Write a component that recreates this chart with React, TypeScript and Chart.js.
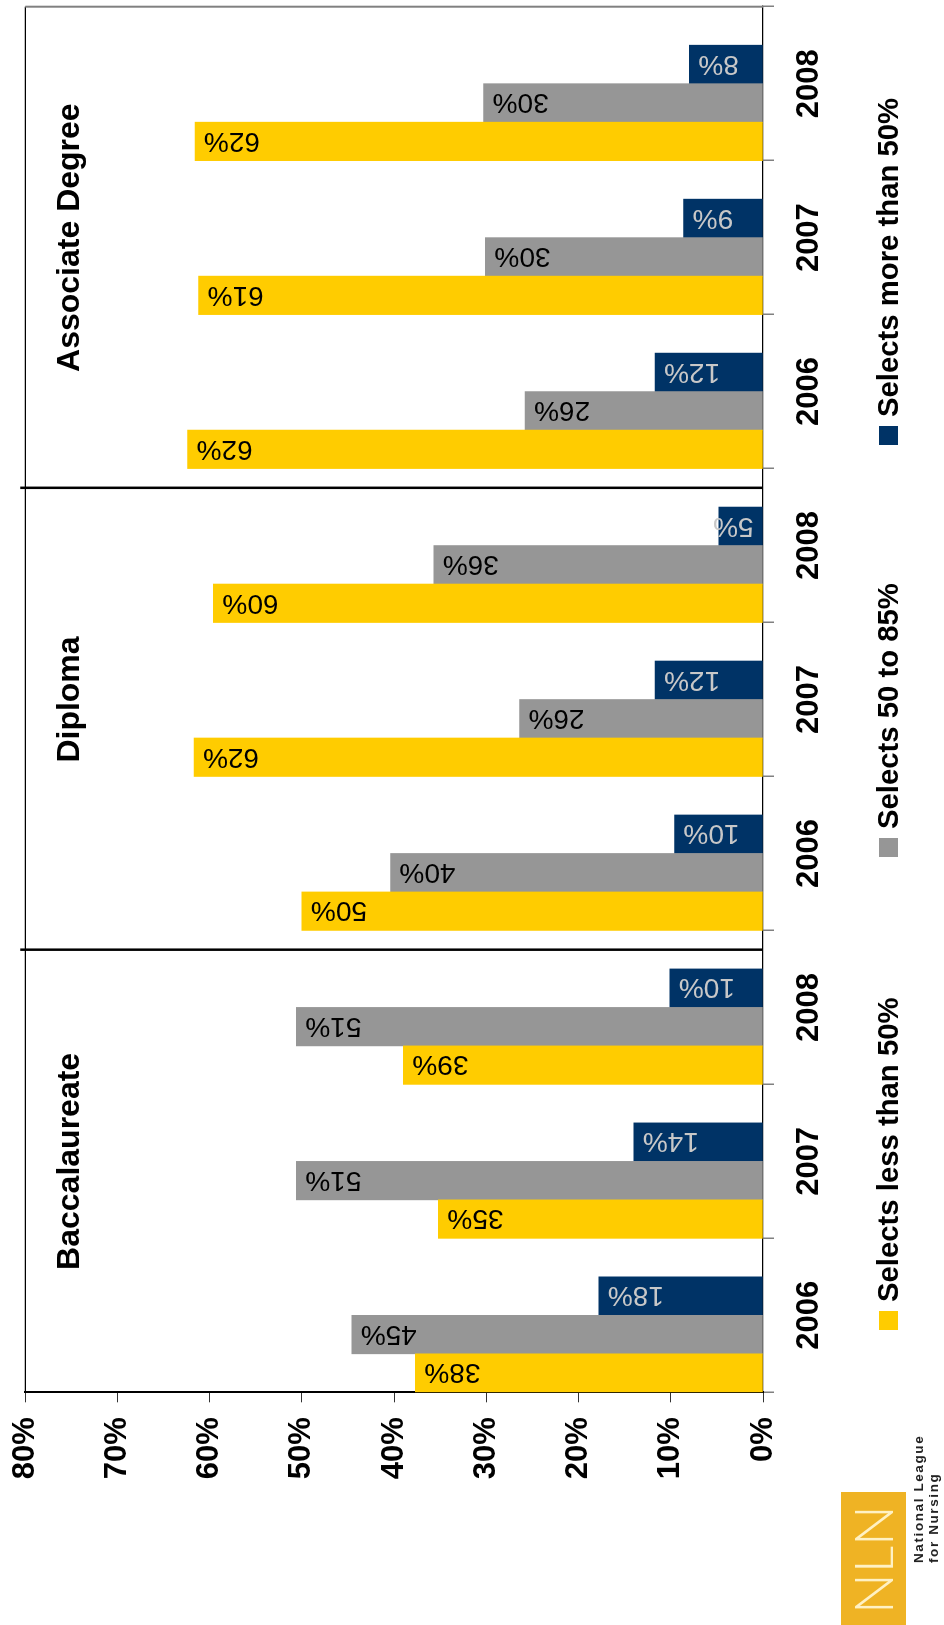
import React, { useEffect, useRef } from 'react';
import { Chart, registerables } from 'chart.js';

Chart.register(...registerables);

// ---- data ----
const categories = ['2006', '2007', '2008', '2006', '2007', '2008', '2006', '2007', '2008'];
const groupNames = ['Baccalaureate', 'Diploma', 'Associate Degree'];
const seriesNames = ['Selects less than 50%', 'Selects 50 to 85%', 'Selects more than 50%'];
const lessThan50 = [37.7, 35.2, 39.0, 50.0, 61.7, 59.6, 62.4, 61.2, 61.6];
const from50to85 = [44.6, 50.6, 50.6, 40.4, 26.4, 35.7, 25.8, 30.1, 30.3];
const moreThan50 = [17.8, 14.0, 10.1, 9.6, 11.7, 4.8, 11.7, 8.6, 8.0];
const emptySlot = [null, null, null, null, null, null, null, null, null];
const seriesColors = ['#FFCC00', '#969696', '#003366'];
const labelColors = ['#000000', '#000000', '#C8C8C8'];
const valueMin = 0;
const valueMax = 80;
const valueStep = 10;

// original (unrotated) canvas size
const W = 1625;
const H = 944;
const FONT = '"Liberation Sans", Arial, Helvetica, sans-serif';

const decorPlugin = {
  id: 'decor',
  afterDatasetsDraw(chart: any) {
    const ctx = chart.ctx;
    const xs = chart.scales.x;
    const ca = chart.chartArea;
    const catW = xs.getPixelForValue(1) - xs.getPixelForValue(0);
    const slot = catW / 4;

    // value labels, vertical, inside end
    for (let d = 0; d < 3; d++) {
      const meta = chart.getDatasetMeta(d);
      const vals = chart.data.datasets[d].data;
      meta.data.forEach((bar: any, i: number) => {
        const v = vals[i];
        if (v == null) return;
        const txt = Math.round(v) + '%';
        ctx.save();
        ctx.font = `28px ${FONT}`;
        const w = ctx.measureText(txt).width;
        const pad = 9;
        const top = bar.y;
        const base = bar.base;
        let ay: number;
        let align: CanvasTextAlign;
        if (w + 2 * pad <= base - top) {
          ay = top + pad;
          align = 'right';
        } else {
          ay = base - pad;
          align = 'left';
        }
        ctx.translate(bar.x, ay);
        ctx.rotate(-Math.PI / 2);
        ctx.textAlign = align;
        ctx.textBaseline = 'middle';
        ctx.fillStyle = labelColors[d];
        ctx.fillText(txt, 0, 1);
        ctx.restore();
      });
    }

    // group separators
    ctx.save();
    ctx.strokeStyle = '#000';
    ctx.lineWidth = 2.5;
    for (let g = 0; g < groupNames.length - 1; g++) {
      const x = xs.getPixelForValue(g * 3 + 2) + 1.5 * slot;
      ctx.beginPath();
      ctx.moveTo(x, ca.top - 5);
      ctx.lineTo(x, ca.bottom);
      ctx.stroke();
    }
    ctx.restore();
  },
  afterDraw(chart: any) {
    const ctx = chart.ctx;
    const xs = chart.scales.x;
    const ca = chart.chartArea;

    // plot borders (top black, right gray)
    ctx.save();
    ctx.strokeStyle = '#000';
    ctx.lineWidth = 1.2;
    ctx.beginPath();
    ctx.moveTo(ca.left, ca.top);
    ctx.lineTo(ca.right, ca.top);
    ctx.stroke();
    ctx.strokeStyle = '#808080';
    ctx.lineWidth = 2;
    ctx.beginPath();
    ctx.moveTo(ca.right, ca.top);
    ctx.lineTo(ca.right, ca.bottom);
    ctx.stroke();
    ctx.restore();

    // group titles
    ctx.save();
    ctx.font = `bold 32px ${FONT}`;
    ctx.fillStyle = '#000';
    ctx.textAlign = 'center';
    ctx.textBaseline = 'alphabetic';
    groupNames.forEach((name, g) => {
      const cx = (xs.getPixelForValue(g * 3) + xs.getPixelForValue(g * 3 + 2)) / 2;
      ctx.fillText(name, cx, 79);
    });
    ctx.restore();

    // legend
    const legendX = [295, 768, 1180];
    ctx.save();
    ctx.font = `bold 29.3px ${FONT}`;
    ctx.textBaseline = 'alphabetic';
    ctx.textAlign = 'left';
    seriesNames.forEach((name, i) => {
      ctx.fillStyle = seriesColors[i];
      ctx.fillRect(legendX[i], 879, 19, 19);
      ctx.fillStyle = '#000';
      ctx.fillText(name, legendX[i] + 28, 898);
    });
    ctx.restore();

    // NLN logo
    ctx.save();
    ctx.fillStyle = '#EFB324';
    ctx.fillRect(0, 841, 133, 65);
    ctx.fillStyle = '#FFF1C4';
    ctx.font = `300 54px Lato, "Open Sans", sans-serif`;
    ctx.textAlign = 'left';
    ctx.textBaseline = 'alphabetic';
    ctx.fillText('NLN', 11, 893);
    ctx.fillStyle = '#222';
    ctx.font = `bold 13.5px ${FONT}`;
    try { (ctx as any).letterSpacing = '1.6px'; } catch (e) {}
    ctx.fillText('National League', 62, 923);
    ctx.fillText('for Nursing', 62, 938);
    ctx.restore();
  },
};

export default function App() {
  const ref = useRef<HTMLCanvasElement | null>(null);

  useEffect(() => {
    if (!ref.current) return;
    const chart = new Chart(ref.current, {
      type: 'bar',
      data: {
        labels: categories,
        datasets: [
          { label: seriesNames[0], data: lessThan50, backgroundColor: seriesColors[0] },
          { label: seriesNames[1], data: from50to85, backgroundColor: seriesColors[1] },
          { label: seriesNames[2], data: moreThan50, backgroundColor: seriesColors[2] },
          { label: '', data: emptySlot as any, backgroundColor: 'rgba(0,0,0,0)' },
        ],
      },
      options: {
        responsive: false,
        animation: false,
        devicePixelRatio: 1,
        datasets: { bar: { categoryPercentage: 1, barPercentage: 1 } } as any,
        layout: { padding: { top: 25.3, right: 6.7, left: 0, bottom: 0 } },
        plugins: { legend: { display: false }, tooltip: { enabled: false }, title: { display: false } },
        scales: {
          x: {
            type: 'category',
            offset: true,
            grid: { offset: true, drawOnChartArea: false, drawTicks: true, tickLength: 11, color: '#808080', lineWidth: 1.5 },
            border: { display: true, color: '#000', width: 1.2 },
            ticks: {
              autoSkip: false,
              maxRotation: 0,
              minRotation: 0,
              padding: 17,
              color: '#000',
              font: { family: FONT, size: 31, weight: 'bold' },
            },
            afterFit: (s: any) => { s.height = H - 763; s.paddingLeft = 0; s.paddingRight = 0; },
          },
          y: {
            min: valueMin,
            max: valueMax,
            ticks: {
              stepSize: valueStep,
              padding: 15,
              color: '#000',
              font: { family: FONT, size: 31, weight: 'bold' },
              callback: (v: any) => v + '%',
            },
            grid: { drawOnChartArea: false, drawTicks: true, tickLength: 10, color: '#333', lineWidth: 1 },
            border: { display: true, color: '#000', width: 2 },
            afterFit: (s: any) => { s.width = 232.7; s.paddingTop = 0; s.paddingBottom = 0; },
          },
        },
      } as any,
      plugins: [decorPlugin],
    });
    return () => chart.destroy();
  }, []);

  return (
    <div style={{ position: 'absolute', left: 0, top: 0, width: 944, height: 1625, overflow: 'hidden', background: '#fff' }}>
      <div
        style={{
          position: 'absolute',
          left: 0,
          top: 0,
          width: W,
          height: H,
          transformOrigin: '0 0',
          transform: `translate(0px, ${W}px) rotate(-90deg)`,
        }}
      >
        <canvas ref={ref} width={W} height={H} style={{ display: 'block', width: W, height: H }} />
      </div>
    </div>
  );
}
